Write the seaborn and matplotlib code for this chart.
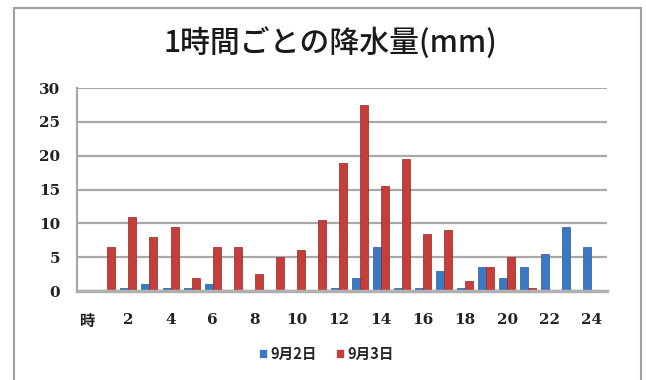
import matplotlib
matplotlib.use("Agg")
import matplotlib.pyplot as plt
from matplotlib.patches import Rectangle
import pandas as pd
import seaborn as sns

# Hourly precipitation (mm), hour 0 is the header column "時"
hours = list(range(0, 25))
tick_labels = ["時"] + [str(h) if h % 2 == 0 else "" for h in range(1, 25)]
series_names = ["9月2日", "9月3日"]
rain_sep2 = [0, 0.1, 0.5, 1, 0.5, 0.5, 1, 0, 0, 0, 0, 0, 0.5, 2, 6.5,
             0.5, 0.5, 3, 0.5, 3.5, 2, 3.5, 5.5, 9.5, 6.5]
rain_sep3 = [0, 6.5, 11, 8, 9.5, 2, 6.5, 6.5, 2.5, 5, 6, 10.5, 19, 27.5, 15.5,
             19.5, 8.5, 9, 1.5, 3.5, 5, 0.5, 0, 0, 0]
y_ticks = [0, 5, 10, 15, 20, 25, 30]

df = pd.DataFrame({
    "hour": hours * 2,
    "rain": rain_sep2 + rain_sep3,
    "day": [series_names[0]] * len(hours) + [series_names[1]] * len(hours),
})

sns.set_theme(style="white")
plt.rcParams["font.family"] = ["Noto Sans CJK JP", "DejaVu Sans"]

fig = plt.figure(figsize=(6.46, 3.80), dpi=100)
ax = fig.add_axes([0.119, 0.234, 0.821, 0.534])

palette = {series_names[0]: "#3b78c4", series_names[1]: "#c63e3a"}
edges = {series_names[0]: "#2a5a96", series_names[1]: "#8f2724"}
sns.barplot(data=df, x="hour", y="rain", hue="day", order=hours,
            hue_order=series_names, palette=palette, width=0.76,
            saturation=1, linewidth=0.5, ax=ax, legend=True)
n = len(hours)
for i, bar in enumerate(ax.patches[:2 * n]):
    bar.set_edgecolor(edges[series_names[i // n]])

ax.set_ylim(0, 30)
ax.set_xlim(-0.45, 24.75)
ax.set_yticks(y_ticks)
ax.set_yticklabels([str(v) for v in y_ticks], fontfamily=["DejaVu Serif"],
                   fontweight="bold", fontsize=11, color="#222222")
ax.set_xticks(hours)
ax.set_xticklabels(tick_labels, fontweight="bold", fontsize=11, color="#222222")
for lbl in ax.get_xticklabels()[1:]:
    lbl.set_fontfamily(["DejaVu Serif"])
ax.tick_params(axis="y", length=0, pad=12)
ax.tick_params(axis="x", length=0, pad=16)
ax.set_xlabel("")
ax.set_ylabel("")

ax.yaxis.grid(True, color="#a8a8a8", linewidth=1.6)
ax.set_axisbelow(True)
for side in ["top", "right"]:
    ax.spines[side].set_visible(False)
ax.spines["left"].set_color("#a8a8a8")
ax.spines["left"].set_linewidth(1.6)
ax.spines["bottom"].set_color("#b0b0b0")
ax.spines["bottom"].set_linewidth(2.5)

ax.legend(loc="upper center", bbox_to_anchor=(0.47, -0.205), ncol=2,
          frameon=False, handlelength=0.55, handleheight=0.55,
          handletextpad=0.25, columnspacing=1.3,
          prop={"family": ["Noto Sans CJK JP"], "weight": "bold", "size": 10.5})

fig.text(0.512, 0.887, "1時間ごとの降水量(mm)", ha="center", va="center",
         fontsize=21.5, fontweight="medium", color="#1a1a1a",
         fontfamily=["Noto Sans CJK JP"])

# outer chart frame
fig.patches.append(Rectangle((14 / 646, -0.05), (641 - 14) / 646, 1.05 - 8 / 380,
                             transform=fig.transFigure, fill=False,
                             edgecolor="#a0a0a0", linewidth=1.5))

fig.savefig("out.png", dpi=100)
